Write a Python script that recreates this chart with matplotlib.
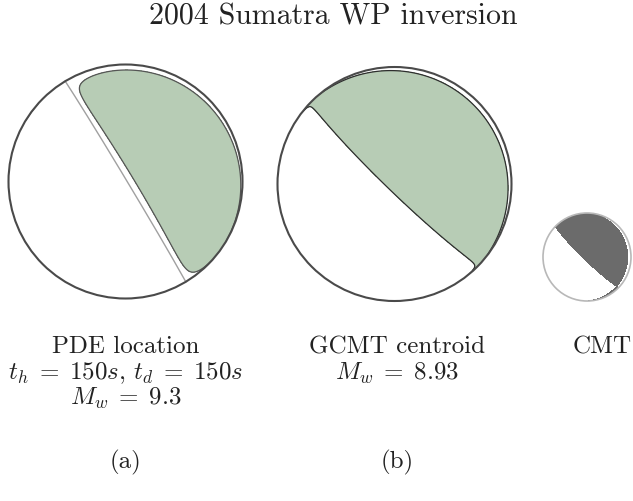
import numpy as np
import matplotlib
matplotlib.use('Agg')
import matplotlib.pyplot as plt
from matplotlib.patches import Circle

plt.rcParams['mathtext.fontset'] = 'cm'
plt.rcParams['font.family'] = ['cmr10', 'DejaVu Serif']
plt.rcParams['axes.unicode_minus'] = False

# ---- data: focal mechanisms (strike, dip, rake of one nodal plane) + non-DC parts ----
panel_ids = ['a', 'b', 'c']
strikes = [329.0, 134.0, 134.0]
dips = [89.0, 85.0, 84.0]
rakes = [-93.0, 90.0, 84.0]
iso_parts = [-0.16, 0.002, 0.0]     # isotropic part (relative to DC)
null_axis_parts = [0.14, 0.0, 0.0]  # extra eigenvalue along the null (B) axis
show_dc_plane = [True, False, False]
line_titles = ["PDE location", "GCMT centroid", "CMT"]
line_2 = [r"$t_h\;=\;150s,\,t_d\;=\;150s$", r"$M_w\;=\;8.93$", ""]
line_3 = [r"$M_w\;=\;9.3$", "", ""]
panel_labels = ["(a)", "(b)", ""]
title = "2004 Sumatra WP inversion"

# ---- layout (pixels) ----
W, H = 633, 501
centers = [(125.5, 181.5), (394.5, 184.0), (587.0, 257.0)]
radii = [117.0, 117.0, 44.0]
fills = ['#b7ccb5', '#b7ccb5', '#6b6b6b']
outlines = ['#4a4a4a', '#4a4a4a', '#b8b8b8']
edge_lines = ['#555555', '#2e2e2e', None]


def fault_vectors(strike, dip, rake):
    s, d, r = np.radians([strike, dip, rake])
    n = np.array([-np.sin(d) * np.sin(s), np.sin(d) * np.cos(s), -np.cos(d)])
    sl = np.array([np.cos(r) * np.cos(s) + np.cos(d) * np.sin(r) * np.sin(s),
                   np.cos(r) * np.sin(s) - np.cos(d) * np.sin(r) * np.cos(s),
                   -np.sin(r) * np.sin(d)])
    return n, sl


def project(v):
    v = np.where(v[2:3] < 0, -v, v)
    theta = np.arccos(np.clip(v[2], -1, 1))
    az = np.arctan2(v[1], v[0])
    r = np.sqrt(2) * np.sin(theta / 2)
    return r * np.sin(az), r * np.cos(az)


fig = plt.figure(figsize=(W / 100, H / 100), dpi=100)
fig.patch.set_facecolor('white')

g = np.linspace(-1.06, 1.06, 800)
X, Y = np.meshgrid(g, g)
R = np.clip(np.hypot(X, Y), 0, 1.0)
TH = 2 * np.arcsin(R / np.sqrt(2))
AZ = np.arctan2(X, Y)
V = np.array([np.sin(TH) * np.cos(AZ), np.sin(TH) * np.sin(AZ), np.cos(TH)])

for i in range(3):
    cx, cy = centers[i]
    rad = radii[i]
    pad = 1.06
    ax = fig.add_axes([(cx - pad * rad) / W, 1 - (cy + pad * rad) / H,
                       2 * pad * rad / W, 2 * pad * rad / H])
    ax.set_xlim(-pad, pad)
    ax.set_ylim(-pad, pad)
    ax.set_aspect('equal')
    ax.axis('off')

    n, sl = fault_vectors(strikes[i], dips[i], rakes[i])
    b = np.cross(n, sl)
    vn = np.einsum('i...,i->...', V, n)
    vs = np.einsum('i...,i->...', V, sl)
    vb = np.einsum('i...,i->...', V, b)
    F = 2 * vn * vs + iso_parts[i] + null_axis_parts[i] * vb ** 2

    clip = Circle((0, 0), 1.0, transform=ax.transData)
    cf = ax.contourf(X, Y, F, levels=[0, F.max() + 1], colors=[fills[i]])
    cf.set_clip_path(clip)
    if edge_lines[i] is not None:
        cl = ax.contour(X, Y, F, levels=[0], colors=[edge_lines[i]], linewidths=0.9)
        cl.set_clip_path(clip)

    if show_dc_plane[i]:
        # trace of the steep double-couple nodal plane
        a = np.cross(n, [0, 0, 1.0])
        a /= np.linalg.norm(a)
        bb = np.cross(n, a)
        if bb[2] < 0:
            bb = -bb
        t = np.linspace(0, np.pi, 400)
        v = np.outer(a, np.cos(t)) + np.outer(bb, np.sin(t))
        px, py = project(v)
        ax.plot(px, py, color='#a0a0a0', lw=1.0, zorder=3)

    ax.add_patch(Circle((0, 0), 1.0, fill=False, edgecolor=outlines[i],
                        lw=1.5 if i < 2 else 1.2, zorder=4))

# ---- text ----
fig.text(333 / W, 1 - 17 / H, title, ha='center', va='center', fontsize=21.5, color='#222222')
text_x = [125.5, 397.0, 602.0]
for i in range(3):
    x = text_x[i] / W
    fig.text(x, 1 - 347 / H, line_titles[i], ha='center', va='center', fontsize=18, color='#222222')
    if line_2[i]:
        fig.text(x, 1 - 373 / H, line_2[i], ha='center', va='center', fontsize=18, color='#222222')
    if line_3[i]:
        fig.text(x, 1 - 398 / H, line_3[i], ha='center', va='center', fontsize=18, color='#222222')
    if panel_labels[i]:
        fig.text(x, 1 - 462 / H, panel_labels[i], ha='center', va='center', fontsize=18, color='#222222')

fig.savefig('out.png', dpi=100, facecolor='white')
